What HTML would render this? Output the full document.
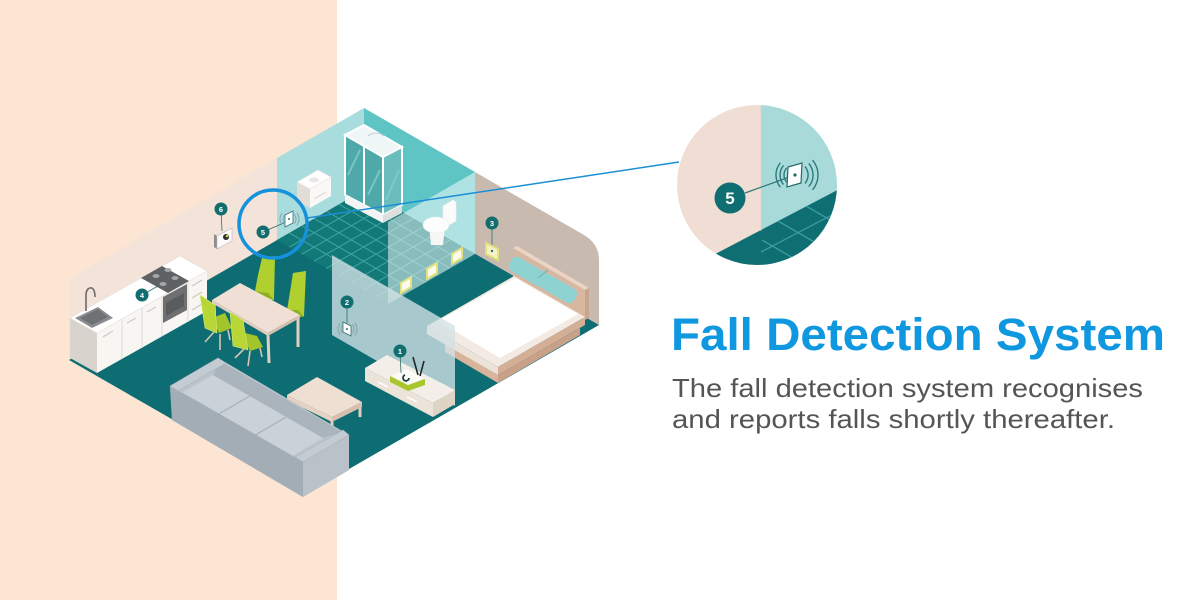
<!DOCTYPE html>
<html><head><meta charset="utf-8"><style>
html,body{margin:0;padding:0;background:#fff;}
svg{display:block}
</style></head><body>
<svg width="1200" height="600" viewBox="0 0 1200 600" xmlns="http://www.w3.org/2000/svg">
<rect width="1200" height="600" fill="#fff"/>
<rect width="337" height="600" fill="#fde5d4"/>

<!-- walls -->
<polygon points="69,279 277,158 277,240 69,360" fill="#f3e3d9"/>
<polygon points="277,158 364,108 364,190 277,240" fill="#a9dcdc"/>
<polygon points="364,108 475,172 475,254 364,190" fill="#5ec4c4"/>
<path d="M475,172 L584,235 Q599,244 599,260 L599,325 L475,254 Z" fill="#c9bab0"/>

<!-- floor -->
<polygon points="364,190 599,325 304,495 69,360" fill="#0d6d72"/>

<!-- bathroom floor -->
<polygon points="364,190 475,254 388,304 277,240" fill="#137878"/>
<g stroke="#3ea5a4" stroke-width="1">
<line x1="351.6" y1="197.1" x2="462.6" y2="261.1"/>
<line x1="339.1" y1="204.3" x2="450.1" y2="268.3"/>
<line x1="326.7" y1="211.4" x2="437.7" y2="275.4"/>
<line x1="314.3" y1="218.6" x2="425.3" y2="282.6"/>
<line x1="301.9" y1="225.7" x2="412.9" y2="289.7"/>
<line x1="289.4" y1="232.9" x2="400.4" y2="296.9"/>
<line x1="376.3" y1="197.1" x2="289.3" y2="247.1"/>
<line x1="388.7" y1="204.2" x2="301.7" y2="254.2"/>
<line x1="401" y1="211.3" x2="314" y2="261.3"/>
<line x1="413.3" y1="218.4" x2="326.3" y2="268.4"/>
<line x1="425.7" y1="225.6" x2="338.7" y2="275.6"/>
<line x1="438" y1="232.7" x2="351" y2="282.7"/>
<line x1="450.3" y1="239.8" x2="363.3" y2="289.8"/>
<line x1="462.7" y1="246.9" x2="375.7" y2="296.9"/>
</g>

<!-- bathroom sink -->
<polygon points="297,182 310,189 310,208 297,201" fill="#e3ddd7"/>
<polygon points="310,189 331,177 331,196 310,208" fill="#faf8f6"/>
<polygon points="297,182 318,170 331,177 310,189" fill="#ffffff" stroke="#e6e1dc" stroke-width="0.6"/>
<ellipse cx="314" cy="180" rx="5" ry="2.5" fill="#e8e8e8"/>
<line x1="314" y1="199" x2="326" y2="192" stroke="#d8d2cc" stroke-width="1"/>

<!-- shower -->
<polygon points="345,135 364,125 402,147 383,157" fill="#eef6f6" stroke="#fff" stroke-width="2"/>
<polygon points="345,135 383,157 383,215 345,195" fill="#4fa9aa" stroke="#fff" stroke-width="2"/>
<polygon points="383,157 402,147 402,205 383,215" fill="#6bbcbc" stroke="#fff" stroke-width="2"/>
<line x1="364" y1="146" x2="364" y2="205" stroke="#fff" stroke-width="2"/>
<g stroke="#86cccc" stroke-width="2" opacity="0.8">
<line x1="348" y1="175" x2="360" y2="150"/>
<line x1="368" y1="195" x2="380" y2="170"/>
<line x1="386" y1="200" x2="399" y2="170"/>
</g>
<polygon points="345,195 383,215 383,223 345,203" fill="#f4f4f4"/>
<polygon points="383,215 402,205 402,213 383,223" fill="#dedede"/>
<path d="M368,136 Q375,130 384,136" stroke="#bcd" stroke-width="1" fill="none"/>

<!-- toilet -->
<polygon points="443,206 453,200 456,202 456,221 446,227 443,225" fill="#f7f7f7" stroke="#dcdcdc" stroke-width="0.6"/>
<polygon points="429,226 445,226 443,245 431,245" fill="#ececec"/>
<ellipse cx="436" cy="225" rx="13" ry="8" fill="#fafafa" stroke="#dcdcdc" stroke-width="0.6"/>

<!-- device 3 on right wall -->
<line x1="492" y1="223" x2="492" y2="245" stroke="#2f6f70" stroke-width="0.8"/>
<polygon points="486,243 498,249 498,260 486,254" fill="#f5f2c8" stroke="#e2e07a" stroke-width="2"/>
<circle cx="492" cy="251" r="1.2" fill="#2f6f70"/>
<circle cx="492" cy="223" r="6.5" fill="#126d6e"/>
<text x="492" y="225.8" font-family="Liberation Sans, sans-serif" font-size="7.5" font-weight="bold" fill="#fff" text-anchor="middle">3</text>

<!-- glass wall -->
<polygon points="388,222 475,172 475,254 388,304" fill="#ffffff" opacity="0.5"/>
<g fill="#fbfbf2" stroke="#e3e27c" stroke-width="2">
<polygon points="401,283 411,277 411,287 401,293"/>
<polygon points="427,269 437,263 437,273 427,279"/>
<polygon points="452,254 462,248 462,258 452,264"/>
</g>

<!-- kitchen -->
<polygon points="70,318 97,333 97,373 70,358" fill="#d9d3cd"/>
<polygon points="97,333 207,271 207,311 97,373" fill="#f7f6f3"/>
<polygon points="70,318 97,333 207,271 180,256" fill="#ffffff" stroke="#e6e1dc" stroke-width="0.7"/>
<g stroke="#e0dbd5" stroke-width="1">
<line x1="122" y1="319" x2="122" y2="359"/>
<line x1="142" y1="308" x2="142" y2="348"/>
<line x1="162" y1="296" x2="162" y2="336"/>
<line x1="188" y1="282" x2="188" y2="322"/>
</g>
<g stroke="#cfc9c3" stroke-width="1.2">
<line x1="103" y1="337" x2="113" y2="331"/>
<line x1="127" y1="323" x2="136" y2="318"/>
<line x1="147" y1="312" x2="156" y2="307"/>
<line x1="192" y1="286" x2="202" y2="280"/>
<line x1="192" y1="298" x2="202" y2="292"/>
<line x1="192" y1="310" x2="202" y2="304"/>
</g>
<polygon points="163,297 187,284 187,310 163,323" fill="#6e6f70"/>
<polygon points="166,303 184,293 184,306 166,316" fill="#5a5b5c"/>
<polygon points="141,278 162,266 189,281 168,293" fill="#5f6263"/>
<g fill="#a4a6a7">
<ellipse cx="156" cy="276" rx="3.5" ry="2"/>
<ellipse cx="168" cy="270" rx="3.5" ry="2"/>
<ellipse cx="163" cy="284" rx="3.5" ry="2"/>
<ellipse cx="175" cy="278" rx="3.5" ry="2"/>
</g>
<polygon points="75,318 98,307 113,318 92,328" fill="#8a8d90"/>
<polygon points="80,318 98,309 108,317 92,325" fill="#6f7275"/>
<path d="M86,311 L86,294 Q87,287 92,288 Q95,290 95,297" stroke="#6b6b6b" stroke-width="1.6" fill="none"/>
<line x1="142" y1="295" x2="158" y2="286" stroke="#2f6f70" stroke-width="0.8"/>
<circle cx="142" cy="295" r="6.5" fill="#126d6e"/>
<text x="142" y="297.8" font-family="Liberation Sans, sans-serif" font-size="7.5" font-weight="bold" fill="#fff" text-anchor="middle">4</text>

<!-- device 6 -->
<line x1="221" y1="209" x2="222" y2="231" stroke="#2f6f70" stroke-width="0.8"/>
<polygon points="214,234 217,236 217,249 214,247" fill="#8e8e8e"/>
<polygon points="217,236 232,228 232,241 217,249" fill="#fbfbfb" stroke="#b5b5b5" stroke-width="0.6"/>
<circle cx="226" cy="237" r="3" fill="#2d2d2d"/>
<circle cx="227" cy="236" r="1.3" fill="#c6d93a"/>
<circle cx="221" cy="209" r="6.5" fill="#126d6e"/>
<text x="221" y="211.8" font-family="Liberation Sans, sans-serif" font-size="7.5" font-weight="bold" fill="#fff" text-anchor="middle">6</text>

<!-- device 5 -->
<line x1="263" y1="232" x2="286" y2="222" stroke="#2f6f70" stroke-width="0.8"/>
<polygon points="285,215 293,211 293,223 285,227" fill="#fff" stroke="#2f6f70" stroke-width="0.8"/>
<circle cx="289" cy="219" r="1" fill="#2f6f70"/>
<g stroke="#8aa6a7" stroke-width="1" fill="none">
<path d="M284.4,215.1 A6 6 0 0 0 284.4,222.9"/>
<path d="M282.1,213.2 A9 9 0 0 0 282.1,224.8"/>
<path d="M294.4,214.5 A7 7 0 0 1 294.4,223.5"/>
<path d="M296.7,212.6 A10 10 0 0 1 296.7,225.4"/>
</g>
<circle cx="263" cy="232" r="6.5" fill="#126d6e"/>
<text x="263" y="234.8" font-family="Liberation Sans, sans-serif" font-size="7.5" font-weight="bold" fill="#fff" text-anchor="middle">5</text>

<!-- bed -->
<polygon points="513,248 585,290 585,320 513,278" fill="#d8b7a1"/>
<polygon points="513,248 517,246 589,288 585,290" fill="#ecd4c4"/>
<polygon points="585,290 589,288 589,318 585,320" fill="#c9a58d"/>
<polygon points="445,344 498,375 498,383 445,352" fill="#d9b49b"/>
<polygon points="498,375 580,328 580,335 498,383" fill="#c9a189"/>
<polygon points="427,326 514,276 585,317 498,367" fill="#f3ebe3"/>
<polygon points="427,326 498,367 498,375 427,334" fill="#ede2d7"/>
<polygon points="498,367 585,317 585,325 498,375" fill="#d4ae95"/>
<polygon points="438,321 515,278 578,314 500,358" fill="#ffffff"/>
<g transform="rotate(30 527 271)">
<rect x="508" y="263" width="40" height="16" rx="6" fill="#8ed3d2"/>
</g>
<g transform="rotate(30 557 288)">
<rect x="538" y="280" width="40" height="16" rx="6" fill="#8ed3d2"/>
</g>
<path d="M538,278 L548,270" stroke="#6fc0bf" stroke-width="1.5"/>

<!-- back chairs -->
<polygon points="262,258 275,256 274,300 266,300 255,291 258,275" fill="#afd02f"/>
<polygon points="255,291 266,297 274,300 268,293" fill="#8fb121"/>
<polygon points="293,273 306,271 304,316 296,318 287,310 290,292" fill="#afd02f"/>
<polygon points="287,310 296,316 304,317 298,310" fill="#8fb121"/>

<!-- table -->
<g stroke="#e3cfc1" stroke-width="3">
<line x1="268" y1="335" x2="269" y2="363"/>
<line x1="298" y1="317" x2="298" y2="347"/>
<line x1="214" y1="302" x2="215" y2="330"/>
</g>
<polygon points="212,300 240,283 300,315 268,333" fill="#efdfd4"/>
<polygon points="212,300 268,333 268,336 212,303" fill="#e3cdbf"/>
<polygon points="268,333 300,315 300,318 268,336" fill="#d7bfae"/>

<!-- front chairs -->
<g stroke="#d8c4b2" stroke-width="1.6">
<line x1="214" y1="332" x2="205" y2="342"/>
<line x1="220" y1="334" x2="220" y2="350"/>
<line x1="228" y1="330" x2="230" y2="340"/>
<line x1="244" y1="349" x2="235" y2="358"/>
<line x1="250" y1="351" x2="248" y2="366"/>
<line x1="260" y1="348" x2="262" y2="357"/>
</g>
<polygon points="212,318 225,313 232,328 219,333" fill="#a3c42a"/>
<polygon points="200,295 215,305 217,333 205,328" fill="#b8d636" stroke="#d6e985" stroke-width="0.6"/>
<polygon points="241,332 257,336 263,347 250,351" fill="#a3c42a"/>
<polygon points="230,312 243,320 248,350 233,346" fill="#b8d636" stroke="#d6e985" stroke-width="0.6"/>

<!-- divider panel 2 -->
<polygon points="332,255 455,326 455,406 332,335" fill="#d4e2e6" opacity="0.78"/>
<line x1="347" y1="302" x2="347" y2="323" stroke="#2f6f70" stroke-width="0.8"/>
<polygon points="343,322 351,326 351,336 343,332" fill="#fff" stroke="#2f6f70" stroke-width="0.8"/>
<circle cx="347" cy="329" r="1" fill="#2f6f70"/>
<g stroke="#8aa6a7" stroke-width="1" fill="none">
<path d="M342.4,325.1 A6 6 0 0 0 342.4,332.9"/>
<path d="M340.1,323.2 A9 9 0 0 0 340.1,334.8"/>
<path d="M352.4,324.5 A7 7 0 0 1 352.4,333.5"/>
<path d="M354.7,322.6 A10 10 0 0 1 354.7,335.4"/>
</g>
<circle cx="347" cy="302" r="6.5" fill="#126d6e"/>
<text x="347" y="304.8" font-family="Liberation Sans, sans-serif" font-size="7.5" font-weight="bold" fill="#fff" text-anchor="middle">2</text>

<!-- TV console -->
<polygon points="365,368 433,403 433,417 365,381" fill="#ece3d9"/>
<polygon points="433,403 455,390 455,404 433,417" fill="#e0d4c7"/>
<polygon points="365,368 387,355 455,390 433,403" fill="#f4eee8"/>
<line x1="378" y1="382" x2="388" y2="387" stroke="#fff" stroke-width="1.5"/>
<line x1="407" y1="397" x2="417" y2="402" stroke="#fff" stroke-width="1.5"/>
<!-- router -->
<polygon points="390,376 408,385 425,379 425,385 408,391 390,382" fill="#a9c62c"/>
<polygon points="391,376 407,369 424,378 408,385" fill="#fbfbf7"/>
<path d="M405,375 a3,3 0 1 0 4,3" stroke="#1e3b3c" stroke-width="1.8" fill="none"/>
<line x1="413" y1="357" x2="418" y2="375" stroke="#1f2a2b" stroke-width="1.6"/>
<line x1="424" y1="361" x2="420" y2="376" stroke="#1f2a2b" stroke-width="1.6"/>
<line x1="400" y1="351" x2="401" y2="373" stroke="#2f6f70" stroke-width="0.8"/>
<circle cx="400" cy="351" r="6.5" fill="#126d6e"/>
<text x="400" y="353.8" font-family="Liberation Sans, sans-serif" font-size="7.5" font-weight="bold" fill="#fff" text-anchor="middle">1</text>

<!-- coffee table -->
<g stroke="#e2cdbe" stroke-width="3">
<line x1="290" y1="399" x2="290" y2="409"/>
<line x1="332" y1="420" x2="332" y2="432"/>
<line x1="360" y1="405" x2="360" y2="417"/>
</g>
<polygon points="287,395 332,417 332,422 287,400" fill="#e6d1c2"/>
<polygon points="332,417 362,402 362,407 332,422" fill="#d8bfad"/>
<polygon points="287,395 317,377 362,402 332,417" fill="#efded2"/>

<!-- sofa -->
<polygon points="170,386 218,358 349,435 349,470 303,497 172,420" fill="#b2bcc4"/>
<polygon points="170,386 303,462 303,497 172,420" fill="#a2adb6"/>
<polygon points="303,462 349,435 349,470 303,497" fill="#b9c2c9"/>
<polygon points="170,386 218,358 349,435 303,462" fill="#bcc5cc"/>
<polygon points="182,393 213,375 323,438 292,456" fill="#cad2d8"/>
<polygon points="213,375 220,361 342,432 323,438" fill="#aab4bc"/>
<!-- arms -->
<polygon points="170,386 218,358 226,363 178,391" fill="#c3ccd2" stroke="#a8b2ba" stroke-width="0.6"/>
<polygon points="295,457 343,430 349,435 303,462" fill="#c3ccd2" stroke="#a8b2ba" stroke-width="0.6"/>
<g stroke="#a6b0b8" stroke-width="1.2">
<line x1="218.7" y1="414" x2="249.7" y2="396"/>
<line x1="255.3" y1="435" x2="286.3" y2="417"/>
<line x1="182" y1="393" x2="292" y2="456"/>
</g>

<!-- small highlight circle and connector -->
<circle cx="273" cy="224" r="34" fill="none" stroke="#1592db" stroke-width="3.5"/>
<line x1="307" y1="218" x2="679" y2="162" stroke="#1a8fd5" stroke-width="1.5"/>

<!-- big zoom circle -->
<defs><clipPath id="bc"><circle cx="757" cy="185" r="80"/></clipPath></defs>
<g clip-path="url(#bc)">
<rect x="670" y="100" width="92" height="180" fill="#f0ddd3"/>
<rect x="761" y="100" width="90" height="180" fill="#a8dada"/>
<polygon points="660,283 761,230 845,186 845,280 660,280" fill="#0f6e72"/>
<g stroke="#3c9c9d" stroke-width="1.3">
<line x1="761" y1="252" x2="845" y2="208"/>
<line x1="761" y1="274" x2="845" y2="230"/>
<line x1="778" y1="221" x2="835" y2="254"/>
<line x1="806" y1="206" x2="846" y2="229"/>
<line x1="762" y1="240" x2="800" y2="262"/>
</g>
<line x1="761" y1="100" x2="761" y2="231" stroke="#e2d0c6" stroke-width="0.8"/>
</g>
<line x1="745" y1="193" x2="795" y2="175" stroke="#2d7778" stroke-width="1.2"/>
<polygon points="788,167 802,163 801,183 787,187" fill="#fff" stroke="#23696a" stroke-width="1.2"/>
<circle cx="795" cy="175" r="1.6" fill="#23696a"/>
<g stroke="#2d7a7b" stroke-width="1.4" fill="none">
<path d="M786.6,167.9 A11 11 0 0 0 786.6,182.1"/>
<path d="M783.5,165.4 A15 15 0 0 0 783.5,184.6"/>
<path d="M780.4,162.8 A19 19 0 0 0 780.4,187.2"/>
<path d="M805,166.6 A13 13 0 0 1 805,183.4"/>
<path d="M808.8,163.4 A18 18 0 0 1 808.8,186.6"/>
<path d="M812.6,160.2 A23 23 0 0 1 812.6,189.8"/>
</g>
<circle cx="730" cy="198" r="15.5" fill="#0f6e72"/>
<text x="730" y="204" font-family="Liberation Sans, sans-serif" font-size="17" font-weight="bold" fill="#fff" text-anchor="middle">5</text>

<!-- text -->
<text x="671" y="350" font-family="Liberation Sans, Arial, sans-serif" font-weight="bold" font-size="45" fill="#0f97e0" textLength="494" lengthAdjust="spacingAndGlyphs">Fall Detection System</text>
<text x="672" y="397" font-family="Liberation Sans, Arial, sans-serif" font-size="26" fill="#555555" textLength="471" lengthAdjust="spacingAndGlyphs">The fall detection system recognises</text>
<text x="672" y="428" font-family="Liberation Sans, Arial, sans-serif" font-size="26" fill="#555555" textLength="443" lengthAdjust="spacingAndGlyphs">and reports falls shortly thereafter.</text>
</svg>
</body></html>
